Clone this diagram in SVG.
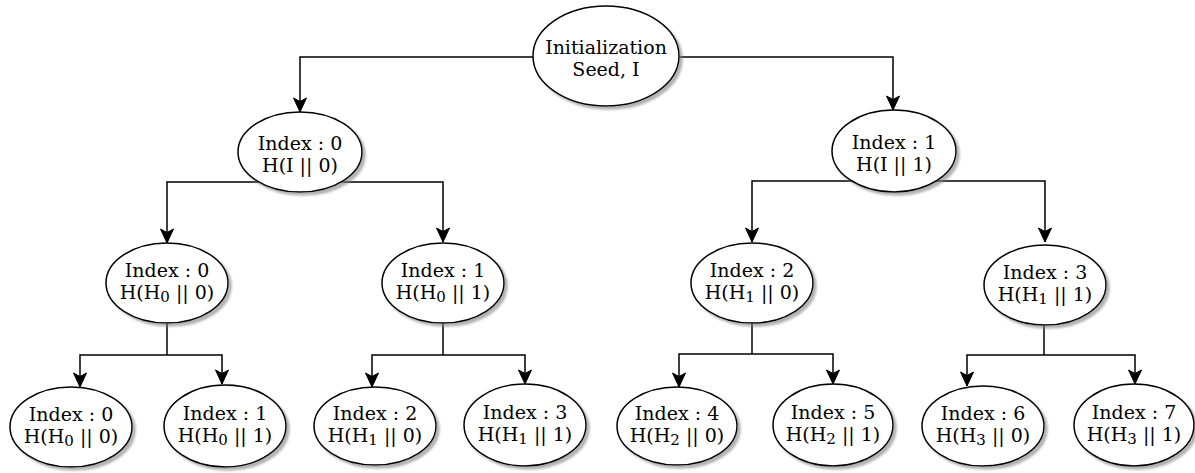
<svg xmlns="http://www.w3.org/2000/svg" width="1195" height="473" viewBox="0 0 1195 473">
  <defs>
    <filter id="shadow" x="-20%" y="-20%" width="150%" height="150%">
      <feGaussianBlur in="SourceAlpha" stdDeviation="1.2" result="b"/>
      <feOffset in="b" dx="3" dy="3" result="o"/>
      <feFlood flood-color="#808080" flood-opacity="0.6"/>
      <feComposite in2="o" operator="in" result="s"/>
      <feMerge><feMergeNode in="s"/><feMergeNode in="SourceGraphic"/></feMerge>
    </filter>
    <marker id="arrow" markerUnits="userSpaceOnUse" markerWidth="16" markerHeight="16" viewBox="0 0 16 16" refX="15" refY="8" orient="auto">
      <path d="M1,1.5 L15,8 L1,14.5 L4.5,8 Z" fill="#000" stroke="#000" stroke-width="1"/>
    </marker>
    <style>
      .edge { fill: none; stroke: #000; stroke-width: 1.5; marker-end: url(#arrow); }
      .trunk { fill: none; stroke: #000; stroke-width: 1.5; }
      .node ellipse { fill: #fff; stroke: #000; stroke-width: 1.5; filter: url(#shadow); }
      .node text { font-family: "DejaVu Serif", serif; font-size: 19px; fill: #000; text-anchor: middle; }
      .sub { font-size: 15px; }
    </style>
  </defs>

  <!-- connectors -->
  <g id="connectors">
    <path class="edge" d="M606,57 H300 V112"/>
    <path class="edge" d="M606,57 H893 V110"/>

    <path class="edge" d="M300,182 H167 V243"/>
    <path class="edge" d="M300,182 H443 V242"/>
    <path class="edge" d="M893,181 H752 V242"/>
    <path class="edge" d="M893,181 H1045 V242"/>

    <path class="trunk" d="M167,322 V355"/>
    <path class="edge" d="M167,355 H80 V387"/>
    <path class="edge" d="M167,355 H222 V384"/>
    <path class="trunk" d="M443,323 V355"/>
    <path class="edge" d="M443,355 H372 V387"/>
    <path class="edge" d="M443,355 H525 V384"/>
    <path class="trunk" d="M752,323 V354"/>
    <path class="edge" d="M752,354 H679 V387"/>
    <path class="edge" d="M752,354 H833 V384"/>
    <path class="trunk" d="M1044,325 V355"/>
    <path class="edge" d="M1044,355 H967 V386"/>
    <path class="edge" d="M1044,355 H1135 V384"/>
  </g>

  <!-- root -->
  <g id="root" class="node">
    <ellipse cx="606" cy="56" rx="73" ry="50"/>
    <text x="606" y="54">Initialization</text>
    <text x="606" y="76">Seed, I</text>
  </g>

  <!-- level 1 -->
  <g id="n1-0" class="node">
    <ellipse cx="300" cy="152" rx="62" ry="40"/>
    <text x="300" y="150">Index : 0</text>
    <text x="300" y="172">H(I || 0)</text>
  </g>
  <g id="n1-1" class="node">
    <ellipse cx="894" cy="151" rx="62" ry="41"/>
    <text x="894" y="149">Index : 1</text>
    <text x="894" y="171">H(I || 1)</text>
  </g>

  <!-- level 2 -->
  <g id="n2-0" class="node">
    <ellipse cx="167" cy="283" rx="61" ry="40"/>
    <text x="167" y="277">Index : 0</text>
    <text x="167" y="299">H(H<tspan class="sub" dy="3">0</tspan><tspan dy="-3"> || 0)</tspan></text>
  </g>
  <g id="n2-1" class="node">
    <ellipse cx="443" cy="283" rx="61" ry="40"/>
    <text x="443" y="277">Index : 1</text>
    <text x="443" y="299">H(H<tspan class="sub" dy="3">0</tspan><tspan dy="-3"> || 1)</tspan></text>
  </g>
  <g id="n2-2" class="node">
    <ellipse cx="752" cy="283" rx="61" ry="40"/>
    <text x="752" y="277">Index : 2</text>
    <text x="752" y="299">H(H<tspan class="sub" dy="3">1</tspan><tspan dy="-3"> || 0)</tspan></text>
  </g>
  <g id="n2-3" class="node">
    <ellipse cx="1045" cy="285" rx="61" ry="40"/>
    <text x="1045" y="279">Index : 3</text>
    <text x="1045" y="301">H(H<tspan class="sub" dy="3">1</tspan><tspan dy="-3"> || 1)</tspan></text>
  </g>

  <!-- leaves -->
  <g id="leaf-0" class="node">
    <ellipse cx="71" cy="427" rx="61" ry="40"/>
    <text x="71" y="421">Index : 0</text>
    <text x="71" y="443">H(H<tspan class="sub" dy="3">0</tspan><tspan dy="-3"> || 0)</tspan></text>
  </g>
  <g id="leaf-1" class="node">
    <ellipse cx="225" cy="426" rx="61" ry="41"/>
    <text x="225" y="420">Index : 1</text>
    <text x="225" y="442">H(H<tspan class="sub" dy="3">0</tspan><tspan dy="-3"> || 1)</tspan></text>
  </g>
  <g id="leaf-2" class="node">
    <ellipse cx="375" cy="426" rx="61" ry="39"/>
    <text x="375" y="420">Index : 2</text>
    <text x="375" y="442">H(H<tspan class="sub" dy="3">1</tspan><tspan dy="-3"> || 0)</tspan></text>
  </g>
  <g id="leaf-3" class="node">
    <ellipse cx="525" cy="425" rx="61" ry="41"/>
    <text x="525" y="419">Index : 3</text>
    <text x="525" y="441">H(H<tspan class="sub" dy="3">1</tspan><tspan dy="-3"> || 1)</tspan></text>
  </g>
  <g id="leaf-4" class="node">
    <ellipse cx="677" cy="426" rx="60" ry="39"/>
    <text x="677" y="420">Index : 4</text>
    <text x="677" y="442">H(H<tspan class="sub" dy="3">2</tspan><tspan dy="-3"> || 0)</tspan></text>
  </g>
  <g id="leaf-5" class="node">
    <ellipse cx="833" cy="425" rx="60" ry="41"/>
    <text x="833" y="419">Index : 5</text>
    <text x="833" y="441">H(H<tspan class="sub" dy="3">2</tspan><tspan dy="-3"> || 1)</tspan></text>
  </g>
  <g id="leaf-6" class="node">
    <ellipse cx="983" cy="426" rx="61" ry="40"/>
    <text x="983" y="420">Index : 6</text>
    <text x="983" y="442">H(H<tspan class="sub" dy="3">3</tspan><tspan dy="-3"> || 0)</tspan></text>
  </g>
  <g id="leaf-7" class="node">
    <ellipse cx="1134" cy="425" rx="60" ry="41"/>
    <text x="1134" y="419">Index : 7</text>
    <text x="1134" y="441">H(H<tspan class="sub" dy="3">3</tspan><tspan dy="-3"> || 1)</tspan></text>
  </g>
</svg>
